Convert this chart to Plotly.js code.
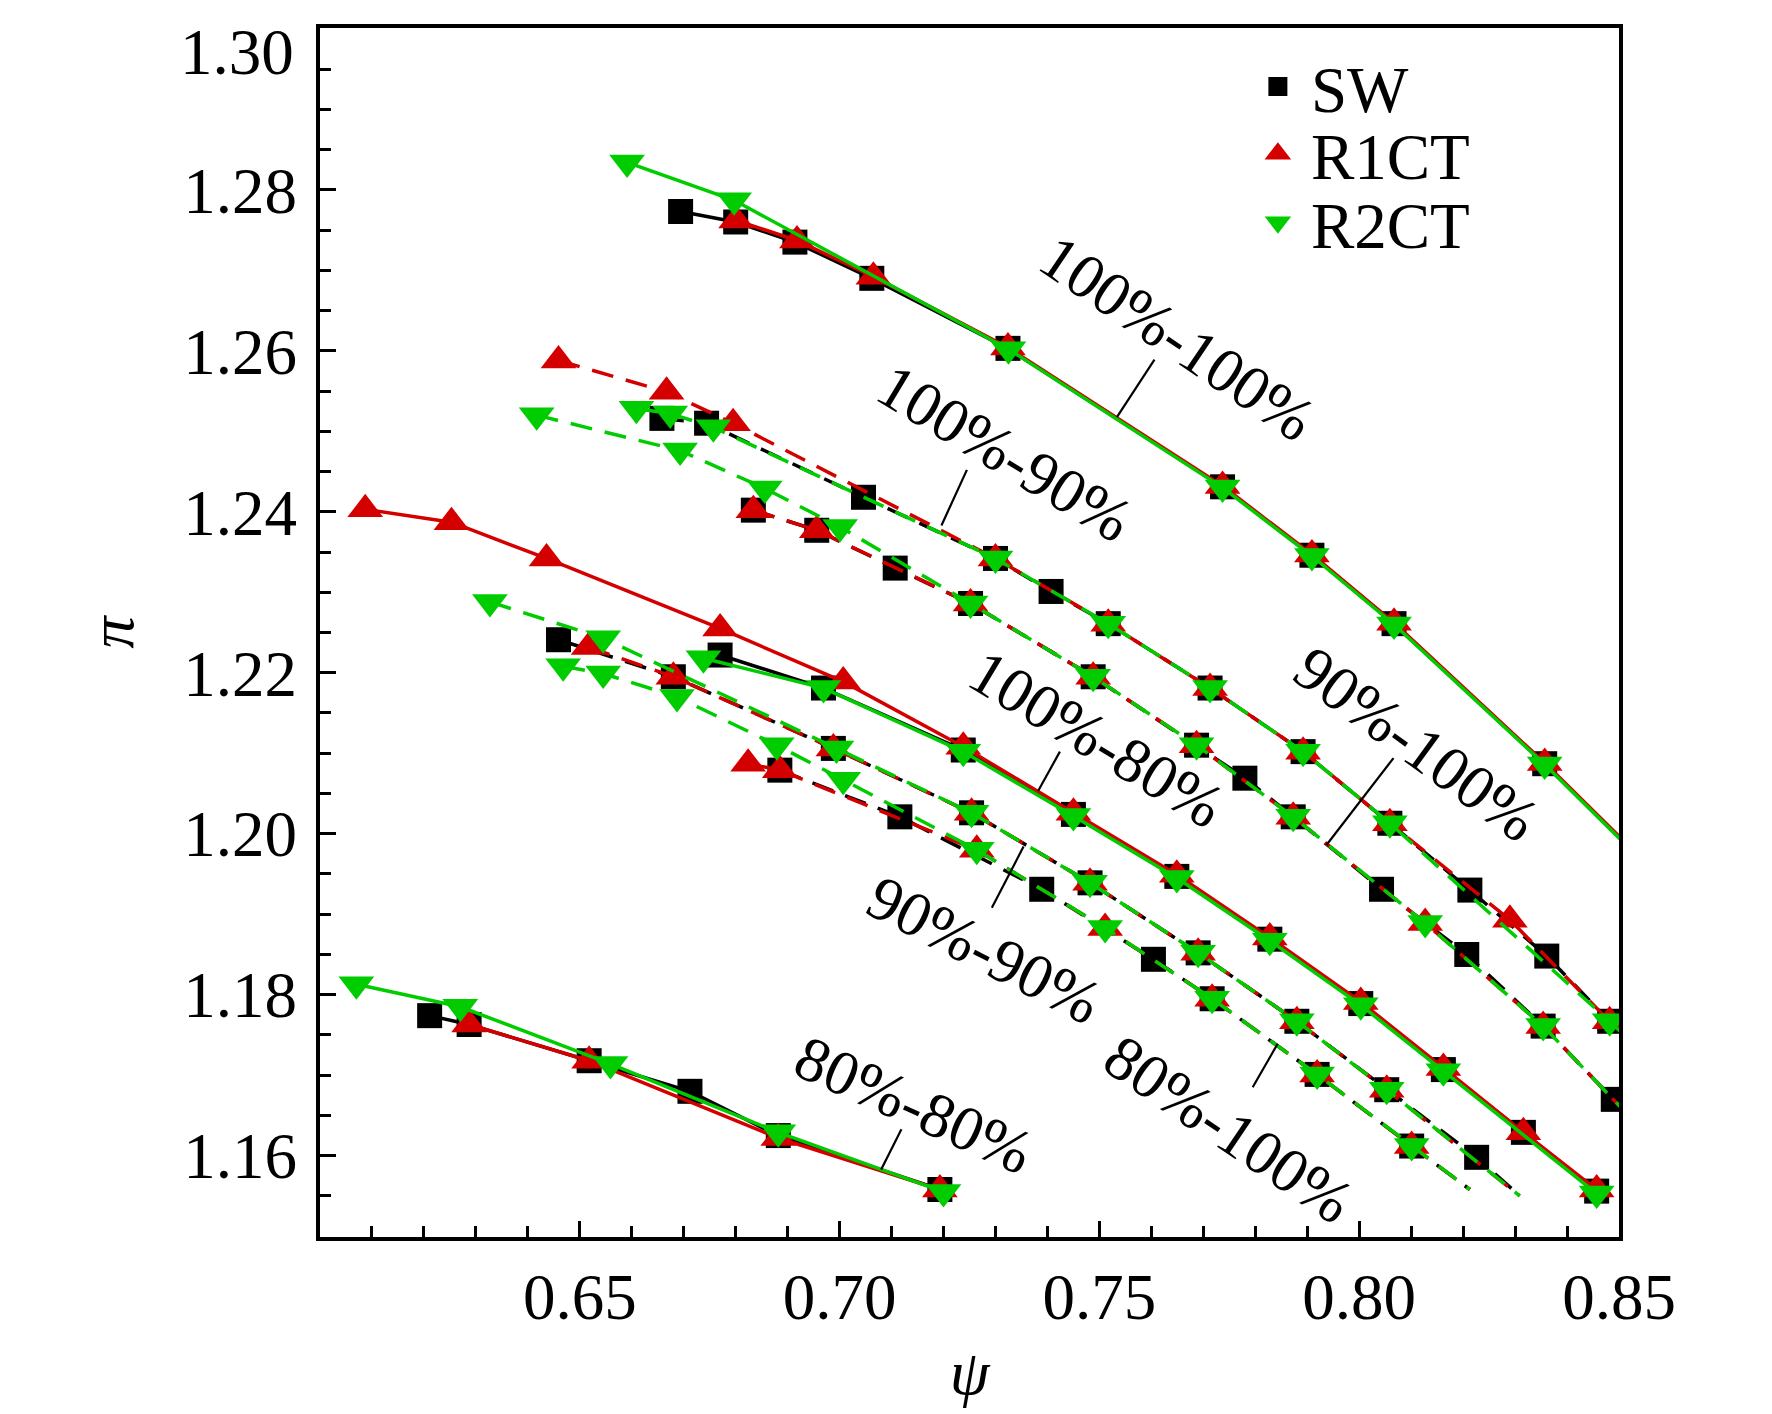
<!DOCTYPE html>
<html>
<head>
<meta charset="utf-8">
<script src="https://cdn.plot.ly/plotly-3.0.1.min.js"></script>
<style>
html,body{margin:0;padding:0;background:#fff;}
#chart{width:1772px;height:1414px;}
</style>
</head>
<body>
<div id="chart"></div>
<script>
// ---------------- Axis ticks ----------------
const psiTicks = [0.65, 0.70, 0.75, 0.80, 0.85];
const psiTickLabels = ['0.65', '0.70', '0.75', '0.80', '0.85'];
const piTicks = [1.16, 1.18, 1.20, 1.22, 1.24, 1.26, 1.28, 1.30];
const piTickLabels = ['1.16', '1.18', '1.20', '1.22', '1.24', '1.26', '1.28', '1.30'];

// ---------------- Operating lines ----------------
const lineNames = ['100%-100%', '100%-90%', '90%-100%', '100%-80%', '90%-90%', '80%-100%', '80%-80%'];
const seriesNames = ['SW', 'R1CT', 'R2CT'];

// 100%-100%
const sw_100_100_psi = [0.6694, 0.6800, 0.6914, 0.7062, 0.7324, 0.7737, 0.7909, 0.8067, 0.8357, 0.8600];
const sw_100_100_pi  = [1.2773, 1.2760, 1.2735, 1.2690, 1.2603, 1.2431, 1.2346, 1.2261, 1.2087, 1.1932];
const r1_100_100_psi = [0.6801, 0.6918, 0.7065, 0.7324, 0.7737, 0.7909, 0.8067, 0.8357, 0.8600];
const r1_100_100_pi  = [1.2762, 1.2737, 1.2692, 1.2604, 1.2432, 1.2347, 1.2262, 1.2088, 1.1933];
const r2_100_100_psi = [0.6591, 0.6797, 0.7325, 0.7737, 0.7909, 0.8067, 0.8357, 0.8600];
const r2_100_100_pi  = [1.2834, 1.2787, 1.2602, 1.2430, 1.2345, 1.2260, 1.2086, 1.1931];

// 100%-90%
const sw_100_90_psi = [0.6658, 0.6744, 0.7046, 0.7300, 0.7407, 0.7517, 0.7713, 0.7892, 0.8059, 0.8213, 0.8361, 0.8482, 0.8600];
const sw_100_90_pi  = [1.2516, 1.2510, 1.2418, 1.2342, 1.2301, 1.2261, 1.2181, 1.2102, 1.2013, 1.1930, 1.1848, 1.1767, 1.1695];
const r1_100_90_psi = [0.6459, 0.6667, 0.6795, 0.7300, 0.7517, 0.7713, 0.7892, 0.8059, 0.8290, 0.8482, 0.8600];
const r1_100_90_pi  = [1.2588, 1.2549, 1.2510, 1.2342, 1.2261, 1.2181, 1.2102, 1.2013, 1.1893, 1.1767, 1.1695];
const r2_100_90_psi = [0.6609, 0.6674, 0.6757, 0.7300, 0.7517, 0.7713, 0.7892, 0.8059, 0.8482, 0.8600];
const r2_100_90_pi  = [1.2528, 1.2522, 1.2505, 1.2342, 1.2261, 1.2181, 1.2102, 1.2013, 1.1767, 1.1695];

// 90%-100%
const sw_90_100_psi = [0.6834, 0.6956, 0.7107, 0.7252, 0.7488, 0.7687, 0.7780, 0.7873, 0.8043, 0.8207, 0.8354, 0.8489, 0.8600];
const sw_90_100_pi  = [1.2402, 1.2377, 1.2330, 1.2286, 1.2195, 1.2110, 1.2069, 1.2021, 1.1931, 1.1850, 1.1761, 1.1670, 1.1595];
const r1_90_100_psi = [0.6834, 0.6956, 0.7252, 0.7488, 0.7687, 0.7873, 0.8127, 0.8354, 0.8600];
const r1_90_100_pi  = [1.2402, 1.2377, 1.2286, 1.2195, 1.2110, 1.2021, 1.1889, 1.1761, 1.1595];
const r2_90_100_psi = [0.6417, 0.6693, 0.6856, 0.7001, 0.7252, 0.7488, 0.7687, 0.7873, 0.8127, 0.8354, 0.8600];
const r2_90_100_pi  = [1.2520, 1.2476, 1.2429, 1.2381, 1.2286, 1.2195, 1.2110, 1.2021, 1.1889, 1.1761, 1.1595];

// 100%-80%
const sw_100_80_psi = [0.6770, 0.6969, 0.7238, 0.7450, 0.7649, 0.7828, 0.8003, 0.8162, 0.8316, 0.8457];
const sw_100_80_pi  = [1.2222, 1.2181, 1.2104, 1.2024, 1.1947, 1.1869, 1.1789, 1.1707, 1.1629, 1.1556];
const r1_100_80_psi = [0.6087, 0.6253, 0.6436, 0.6770, 0.7007, 0.7238, 0.7450, 0.7649, 0.7828, 0.8003, 0.8162, 0.8316, 0.8457];
const r1_100_80_pi  = [1.2403, 1.2387, 1.2342, 1.2255, 1.2189, 1.2108, 1.2026, 1.1949, 1.1871, 1.1791, 1.1709, 1.1629, 1.1558];
const r2_100_80_psi = [0.6738, 0.6969, 0.7238, 0.7450, 0.7649, 0.7828, 0.8003, 0.8162, 0.8457];
const r2_100_80_pi  = [1.2218, 1.2181, 1.2102, 1.2022, 1.1945, 1.1867, 1.1787, 1.1705, 1.1553];

// 90%-90%
const sw_90_90_psi = [0.6459, 0.6680, 0.6988, 0.7254, 0.7482, 0.7690, 0.7880, 0.8053, 0.8226, 0.8309];
const sw_90_90_pi  = [1.2241, 1.2195, 1.2106, 1.2026, 1.1939, 1.1852, 1.1767, 1.1682, 1.1598, 1.1550];
const r1_90_90_psi = [0.6517, 0.6680, 0.6988, 0.7254, 0.7482, 0.7690, 0.7880, 0.8053, 0.8309];
const r1_90_90_pi  = [1.2232, 1.2195, 1.2106, 1.2026, 1.1939, 1.1852, 1.1767, 1.1682, 1.1550];
const r2_90_90_psi = [0.6327, 0.6545, 0.6994, 0.7254, 0.7482, 0.7690, 0.7880, 0.8053, 0.8309];
const r2_90_90_pi  = [1.2288, 1.2243, 1.2106, 1.2026, 1.1939, 1.1852, 1.1767, 1.1682, 1.1550];

// 80%-100%
const sw_80_100_psi = [0.6885, 0.7116, 0.7389, 0.7604, 0.7717, 0.7919, 0.8101, 0.8213];
const sw_80_100_pi  = [1.2079, 1.2021, 1.1931, 1.1844, 1.1795, 1.1701, 1.1612, 1.1558];
const r1_80_100_psi = [0.6824, 0.6885, 0.7264, 0.7511, 0.7717, 0.7919, 0.8101, 0.8213];
const r1_80_100_pi  = [1.2087, 1.2079, 1.1980, 1.1883, 1.1795, 1.1701, 1.1612, 1.1558];
const r2_80_100_psi = [0.6468, 0.6545, 0.6687, 0.6879, 0.7007, 0.7264, 0.7511, 0.7717, 0.7919, 0.8101, 0.8213];
const r2_80_100_pi  = [1.2208, 1.2199, 1.2170, 1.2110, 1.2067, 1.1980, 1.1883, 1.1795, 1.1701, 1.1612, 1.1558];

// 80%-80%
const sw_80_80_psi = [0.6211, 0.6287, 0.6518, 0.6712, 0.6882, 0.7193];
const sw_80_80_pi  = [1.1774, 1.1763, 1.1718, 1.1680, 1.1625, 1.1558];
const r1_80_80_psi = [0.6287, 0.6518, 0.6882, 0.7193];
const r1_80_80_pi  = [1.1763, 1.1718, 1.1622, 1.1558];
const r2_80_80_psi = [0.6070, 0.6270, 0.6559, 0.6882, 0.7200];
const r2_80_80_pi  = [1.1813, 1.1785, 1.1714, 1.1629, 1.1555];

// ---------------- Label annotations (text + leader line) ----------------
const labelPsi   = [0.7650, 0.7318, 0.8110, 0.7495, 0.7278, 0.7748, 0.7143];
const labelPi    = [1.2616, 1.2473, 1.2112, 1.2118, 1.1855, 1.1633, 1.1663];
const leaderPsi0 = [0.7606, 0.7245, 0.8066, 0.7424, 0.7354, 0.7795, 0.7119];
const leaderPi0  = [1.2589, 1.2452, 1.2094, 1.2102, 1.1984, 1.1685, 1.1633];
const leaderPsi1 = [0.7534, 0.7196, 0.7937, 0.7382, 0.7293, 0.7843, 0.7080];
const leaderPi1  = [1.2518, 1.2383, 1.1986, 1.2053, 1.1908, 1.1739, 1.1583];

// ---------------- Build ----------------
const dataByLine = [
  [[sw_100_100_psi, sw_100_100_pi], [r1_100_100_psi, r1_100_100_pi], [r2_100_100_psi, r2_100_100_pi]],
  [[sw_100_90_psi, sw_100_90_pi], [r1_100_90_psi, r1_100_90_pi], [r2_100_90_psi, r2_100_90_pi]],
  [[sw_90_100_psi, sw_90_100_pi], [r1_90_100_psi, r1_90_100_pi], [r2_90_100_psi, r2_90_100_pi]],
  [[sw_100_80_psi, sw_100_80_pi], [r1_100_80_psi, r1_100_80_pi], [r2_100_80_psi, r2_100_80_pi]],
  [[sw_90_90_psi, sw_90_90_pi], [r1_90_90_psi, r1_90_90_pi], [r2_90_90_psi, r2_90_90_pi]],
  [[sw_80_100_psi, sw_80_100_pi], [r1_80_100_psi, r1_80_100_pi], [r2_80_100_psi, r2_80_100_pi]],
  [[sw_80_80_psi, sw_80_80_pi], [r1_80_80_psi, r1_80_80_pi], [r2_80_80_psi, r2_80_80_pi]]
];

const lineDash = ['solid', '22px,13px', '22px,13px', 'solid', '22px,13px', '22px,13px', 'solid'];
const openEnd  = [false, false, false, false, true, true, false];

const styles = [
  {color: '#000000', symbol: 'square', size: 25},
  {color: '#d40000', symbol: 'triangle-up', size: 31},
  {color: '#00cc00', symbol: 'triangle-down', size: 31}
];

const FONT = 'Liberation Serif, Times New Roman, serif';
const traces = [];
for (let s = 0; s < 3; s++) {
  for (let c = 0; c < dataByLine.length; c++) {
    const [xs, ys] = dataByLine[c][s];
    const sizes = xs.map((v, i) => (openEnd[c] && i === xs.length - 1) ? 0 : styles[s].size);
    traces.push({
      type: 'scatter', mode: 'lines+markers',
      x: xs, y: ys,
      name: seriesNames[s] + ' ' + lineNames[c],
      showlegend: false,
      line: {color: styles[s].color, width: 3.5, dash: lineDash[c]},
      marker: {color: styles[s].color, symbol: styles[s].symbol, size: sizes, opacity: 1, line: {width: 0}},
      cliponaxis: true,
      hoverinfo: 'x+y+name'
    });
  }
}
// legend entries (marker only)
const legendIds = ['legend', 'legend2', 'legend3'];
for (let s = 0; s < 3; s++) {
  traces.push({
    type: 'scatter', mode: 'markers', x: [null], y: [null],
    name: seriesNames[s], legend: legendIds[s], showlegend: true,
    marker: {color: styles[s].color, symbol: styles[s].symbol, size: 16, opacity: 1,
             line: {color: styles[s].color, width: s === 0 ? 3 : 4}}
  });
}

const labelAngles = [34, 31, 36, 31, 27, 34, 24];
const annotations = lineNames.map((t, i) => ({
  text: t, x: labelPsi[i], y: labelPi[i], xref: 'x', yref: 'y',
  showarrow: false, textangle: labelAngles[i], xanchor: 'center', yanchor: 'middle',
  font: {family: FONT, size: 63, color: '#000'}
}));
// top tick label sits just below its tick (as in the original) so it stays inside the picture
const topIdx = piTicks.length - 1;
annotations.push({
  text: piTickLabels[topIdx], xref: 'paper', yref: 'y', x: 0, y: piTicks[topIdx],
  xanchor: 'right', yanchor: 'middle', xshift: -24, yshift: -23, showarrow: false,
  font: {family: FONT, size: 65, color: '#000'}
});
const yTickText = piTickLabels.map((t, i) => i === topIdx ? '' : t);

const shapes = lineNames.map((t, i) => ({
  type: 'line', xref: 'x', yref: 'y',
  x0: leaderPsi0[i], y0: leaderPi0[i], x1: leaderPsi1[i], y1: leaderPi1[i],
  line: {color: '#000', width: 2.2}
}));

const legendBase = {
  xref: 'paper', yref: 'paper', xanchor: 'left', yanchor: 'middle', x: 0.712,
  bgcolor: 'rgba(0,0,0,0)', borderwidth: 0, itemwidth: 56,
  font: {family: FONT, size: 65, color: '#000'}
};

const layout = {
  width: 1772, height: 1414,
  margin: {l: 320, r: 153, t: 28, b: 177, pad: 0},
  paper_bgcolor: '#fff', plot_bgcolor: '#fff',
  font: {family: FONT, size: 65, color: '#000'},
  xaxis: {
    range: [0.6, 0.85], tickvals: psiTicks, ticktext: psiTickLabels,
    ticks: 'inside', ticklen: 16, tickwidth: 3, tickcolor: '#000',
    minor: {ticks: 'inside', dtick: 0.01, tick0: 0.6, ticklen: 11, tickwidth: 3, tickcolor: '#000', showgrid: false},
    showline: true, linewidth: 4, linecolor: '#000', mirror: true,
    showgrid: false, zeroline: false, ticklabeloverflow: 'allow',
    tickfont: {family: FONT, size: 65, color: '#000'},
    title: {text: '<i>ψ</i>', font: {family: FONT, size: 64, color: '#000'}, standoff: 18}
  },
  yaxis: {
    range: [1.1499, 1.3001], tickvals: piTicks, ticktext: yTickText,
    ticks: 'inside', ticklen: 16, tickwidth: 3, tickcolor: '#000',
    minor: {ticks: 'inside', dtick: 0.005, tick0: 1.15, ticklen: 11, tickwidth: 3, tickcolor: '#000', showgrid: false},
    showline: true, linewidth: 4, linecolor: '#000', mirror: true,
    showgrid: false, zeroline: false, ticklabelstandoff: 6,
    tickfont: {family: FONT, size: 65, color: '#000'},
    title: {text: '<i>π</i>', font: {family: FONT, size: 64, color: '#000'}, standoff: 30}
  },
  legend: Object.assign({}, legendBase, {y: 0.9515}),
  legend2: Object.assign({}, legendBase, {y: 0.8960}),
  legend3: Object.assign({}, legendBase, {y: 0.8390}),
  annotations: annotations,
  shapes: shapes
};

Plotly.newPlot('chart', traces, layout, {displayModeBar: false, staticPlot: true});
</script>
</body>
</html>
